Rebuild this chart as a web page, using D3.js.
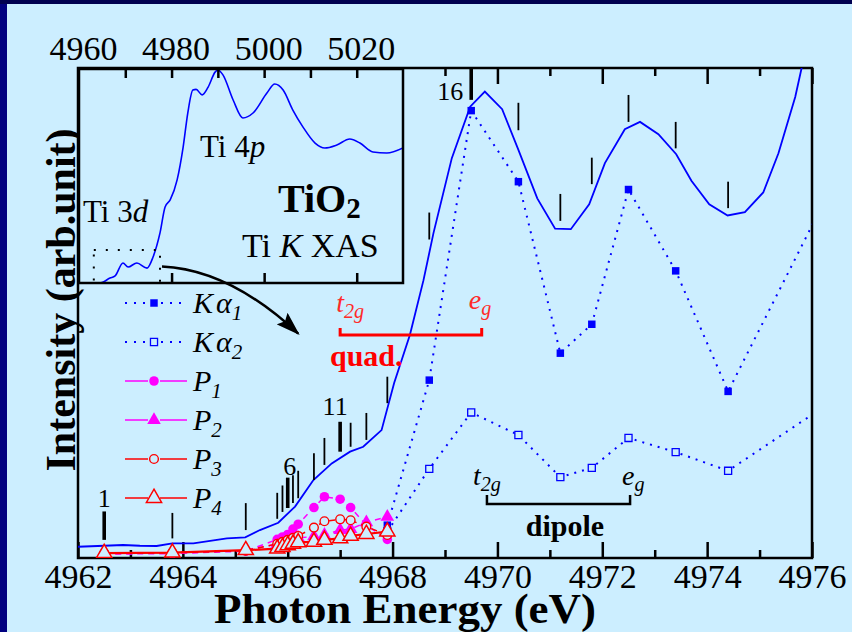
<!DOCTYPE html>
<html>
<head>
<meta charset="utf-8">
<script src="https://cdn.jsdelivr.net/npm/d3@7"></script>
<style>
  html, body { margin: 0; padding: 0; background: #cceeff; }
  svg { display: block; font-family: "Liberation Serif", "Times New Roman", serif; }
</style>
</head>
<body>
<svg id="chart" width="852" height="632"></svg>
<script>
// ---------------- data ----------------
// final-state energies (eV) of the numbered sticks 1..22
const stateEnergy = [4962.5, 4963.8, 4965.2, 4965.8, 4965.9, 4966.0, 4966.1, 4966.2, 4966.5, 4966.7,
                     4967.0, 4967.2, 4967.5, 4967.9, 4968.7, 4969.5, 4970.4, 4971.2, 4971.8, 4972.5,
                     4973.4, 4974.4];
// stick extents (intensity units)
const stickTop    = [9.5, 9.2, 11.2, 13.3, 14.8, 16.4, 16.9, 17.8, 21.4, 24.5, 27.8, 27.6, 29.6, 37.0,
                     70.5, 99.8, 92.9, 74.3, 81.7, 94.5, 89.0, 76.8];
const stickBottom = [3.7, 4.0, 5.7, 8.0, 9.4, 10.2, 11.2, 12.2, 15.9, 19.0, 21.7, 22.7, 24.1, 31.6,
                     65.0, 93.5, 87.3, 68.8, 76.3, 89.0, 83.6, 71.4];
const numberedSticks = [1, 6, 11, 16];

// Ti K-edge XAS (main panel)
const xasEnergy = [4962.0, 4962.5, 4962.86, 4963.18, 4963.5, 4963.8, 4964.2, 4964.52, 4964.84, 4965.19,
                   4965.47, 4965.82, 4966.14, 4966.49, 4966.84, 4967.19, 4967.44, 4967.79, 4968.03, 4968.33,
                   4968.59, 4968.78, 4969.13, 4969.48, 4969.76, 4970.09, 4970.40, 4970.76, 4971.10, 4971.40,
                   4971.75, 4972.05, 4972.43, 4972.72, 4973.07, 4973.41, 4973.70, 4974.04, 4974.39, 4974.72,
                   4975.07, 4975.36, 4975.68, 4975.80, 4975.95];
const xasIntensity = [2.3, 2.5, 2.65, 2.5, 2.45, 3.0, 3.0, 3.5, 4.0, 4.2,
                      5.7, 7.2, 10.5, 15.9, 19.3, 21.7, 22.7, 26.1, 35.7, 45.5,
                      56.7, 66.3, 81.6, 92.1, 95.2, 91.6, 83.3, 73.4, 67.2, 67.1,
                      72.2, 80.6, 87.5, 89.0, 86.5, 82.4, 77.0, 72.2, 69.9, 70.6,
                      74.6, 82.6, 94.1, 99.9, 106];

// K-alpha emission-detected spectra
const kaEnergy = [4967.9, 4968.7, 4969.5, 4970.4, 4971.2, 4971.8, 4972.5, 4973.4, 4974.4, 4976.4];
const ka1 = [6.7, 36.3, 91.3, 76.8, 41.8, 47.7, 75.2, 58.6, 34.0, 76.3];
const ka2 = [5.4, 18.2, 29.7, 25.1, 16.5, 18.4, 24.5, 21.6, 17.8, 32.1];

// pre-edge peaks P1..P4 (first 14 states)
const pEnergy = stateEnergy.slice(0, 14);
const p1 = [0.8, 0.9, 1.4, 3.8, 4.3, 4.8, 5.9, 6.9, 10.3, 12.5, 12.0, 10.3, 6.7, 3.8];
const p2 = [0.9, 1.0, 1.5, 2.9, 3.2, 3.5, 3.8, 4.1, 4.4, 4.7, 5.7, 5.9, 7.3, 8.4];
const p3 = [1.0, 1.1, 1.5, 2.9, 3.3, 3.7, 4.1, 4.5, 6.2, 7.5, 7.9, 7.7, 6.4, 4.7];
const p4 = [1.0, 1.1, 1.6, 1.9, 2.2, 2.6, 2.9, 3.2, 3.3, 3.7, 4.0, 4.5, 4.9, 5.4];

// wide-range XAS (inset)
const insetEnergy = [4960.0, 4964.5, 4966.7, 4967.8, 4969.5, 4970.6, 4972.5, 4974.7, 4976.0, 4977.5,
                     4978.6, 4979.7, 4981.2, 4982.5, 4983.5, 4984.6, 4985.3, 4986.6, 4987.9, 4989.4,
                     4990.0, 4991.1, 4993.3, 4995.4, 4997.6, 5000.6, 5002.3, 5004.1, 5006.2, 5008.4,
                     5011.0, 5013.1, 5015.7, 5018.5, 5020.7, 5023.5, 5026.5, 5030.0];
const insetIntensity = [0.0, 0.0, 0.023, 0.033, 0.094, 0.075, 0.094, 0.070, 0.122, 0.235,
                        0.357, 0.390, 0.484, 0.638, 0.798, 0.906, 0.909, 0.883, 0.920, 0.990,
                        1.0, 0.977, 0.859, 0.775, 0.798, 0.892, 0.934, 0.906, 0.812, 0.732,
                        0.657, 0.634, 0.648, 0.676, 0.657, 0.615, 0.610, 0.634];
const insetTickLabels = [4960, 4980, 5000, 5020];
const preEdgeWindow = { e0: 4963.2, e1: 4977.5, i0: 0, i1: 0.155 };

// ---------------- layout ----------------
const W = 852, H = 632;
const BG = "#cceeff";
const SERIF = "Liberation Serif, Times New Roman, serif";
const plot = { left: 78, right: 812, top: 68, bottom: 558 };

const svg = d3.select("#chart");
svg.append("rect").attr("width", W).attr("height", H).attr("fill", BG);
svg.append("rect").attr("width", 7).attr("height", H).attr("fill", "#000080");
svg.append("rect").attr("width", W).attr("height", 4).attr("fill", "#000050");

const x = d3.scaleLinear().domain([4962, 4976]).range([plot.left, plot.right]);
const y = d3.scaleLinear().domain([0, 100]).range([plot.bottom, plot.top]);

svg.append("defs").append("clipPath").attr("id", "plotClip")
  .append("rect").attr("x", plot.left).attr("y", plot.top)
  .attr("width", plot.right - plot.left).attr("height", plot.bottom - plot.top);

// ---------------- axes ----------------
function styleAxis(g) {
  g.select(".domain").remove();
  g.attr("font-family", SERIF).attr("font-size", 34);
  g.selectAll("line").attr("stroke", "#000").attr("stroke-width", 2.5);
  g.selectAll("text").attr("fill", "#000");
}
const major = d3.range(4962, 4977, 2), minor = d3.range(4963, 4976, 2);
svg.append("g").attr("transform", `translate(0,${plot.bottom})`)
  .call(d3.axisBottom(x).tickValues(major).tickSize(-16).tickPadding(6).tickFormat(d3.format("d")))
  .call(styleAxis);
svg.append("g").attr("transform", `translate(0,${plot.bottom})`)
  .call(d3.axisBottom(x).tickValues(minor).tickSize(-8).tickFormat(""))
  .call(styleAxis);
svg.append("g").attr("transform", `translate(0,${plot.top})`)
  .call(d3.axisTop(x).tickValues(major).tickSize(-16).tickFormat(""))
  .call(styleAxis);
svg.append("g").attr("transform", `translate(0,${plot.top})`)
  .call(d3.axisTop(x).tickValues(minor).tickSize(-8).tickFormat(""))
  .call(styleAxis);

svg.append("rect").attr("x", plot.left).attr("y", plot.top)
  .attr("width", plot.right - plot.left).attr("height", plot.bottom - plot.top)
  .attr("fill", "none").attr("stroke", "#000").attr("stroke-width", 2.5);

svg.append("text").attr("x", 405).attr("y", 623)
  .attr("text-anchor", "middle").attr("font-family", SERIF).attr("font-weight", "bold")
  .attr("font-size", 42).attr("textLength", 382).attr("lengthAdjust", "spacingAndGlyphs")
  .text("Photon Energy (eV)");
svg.append("text").attr("transform", "translate(75,300) rotate(-90)")
  .attr("text-anchor", "middle").attr("font-family", SERIF).attr("font-weight", "bold")
  .attr("font-size", 42).text("Intensity (arb.unit)");

// ---------------- data marks ----------------
const data = svg.append("g").attr("clip-path", "url(#plotClip)");

// total XAS
data.append("path")
  .attr("d", d3.line().x((d, i) => x(xasEnergy[i])).y(d => y(d))(xasIntensity))
  .attr("fill", "none").attr("stroke", "#0000ff").attr("stroke-width", 1.8);

// sticks for the final states
data.append("g").selectAll("line").data(stateEnergy).join("line")
  .attr("x1", d => x(d)).attr("x2", d => x(d))
  .attr("y1", (d, i) => y(stickTop[i])).attr("y2", (d, i) => y(stickBottom[i]))
  .attr("stroke", "#000")
  .attr("stroke-width", (d, i) => numberedSticks.includes(i + 1) ? 3.6 : 1.8);

// stick numbers
const numberStyle = {
  1:  { dx: 0,  anchor: "middle", ref: "top", dy: -4 },
  6:  { dx: 2,  anchor: "middle", ref: "top", dy: -3 },
  11: { dx: -5, anchor: "middle", ref: "top", dy: -7 },
  16: { dx: -8, anchor: "end",    ref: "bottom", dy: 0 }
};
svg.append("g").selectAll("text").data(numberedSticks).join("text")
  .attr("x", n => x(stateEnergy[n - 1]) + numberStyle[n].dx)
  .attr("y", n => y(numberStyle[n].ref === "top" ? stickTop[n - 1] : stickBottom[n - 1]) + numberStyle[n].dy)
  .attr("text-anchor", n => numberStyle[n].anchor)
  .attr("font-family", SERIF).attr("font-size", 26).text(n => n);

const sym = (type, size) => d3.symbol().type(type).size(size)();
const series = [
  { e: kaEnergy, v: ka1, color: "#0000ff", dash: "2,6", width: 2,
    shape: sym(d3.symbolSquare, 56), fill: "#0000ff", sw: 0 },
  { e: kaEnergy, v: ka2, color: "#0000ff", dash: "2,6", width: 2,
    shape: sym(d3.symbolSquare, 50), fill: BG, sw: 1.3 },
  { e: pEnergy, v: p1, color: "#ff00ff", dash: "6,5", width: 1.5,
    shape: sym(d3.symbolCircle, 72), fill: "#ff00ff", sw: 0 },
  { e: pEnergy, v: p2, color: "#ff00ff", dash: "6,5", width: 1.5,
    shape: sym(d3.symbolTriangle, 80), fill: "#ff00ff", sw: 0 },
  { e: pEnergy, v: p3, color: "#ff0000", dash: "6,5", width: 1.5,
    shape: sym(d3.symbolCircle, 60), fill: BG, sw: 1.4 },
  { e: pEnergy, v: p4, color: "#ff0000", dash: null, width: 2.2,
    shape: sym(d3.symbolTriangle, 100), fill: BG, sw: 1.5 }
];
series.forEach(s => {
  const g = data.append("g");
  g.append("path")
    .attr("d", d3.line().x((d, i) => x(s.e[i])).y(d => y(d))(s.v))
    .attr("fill", "none").attr("stroke", s.color).attr("stroke-width", s.width)
    .attr("stroke-dasharray", s.dash);
  g.selectAll("path.m").data(s.v).join("path").attr("class", "m")
    .attr("transform", (d, i) => `translate(${x(s.e[i])},${y(d)})`)
    .attr("d", s.shape).attr("fill", s.fill)
    .attr("stroke", s.sw ? s.color : "none").attr("stroke-width", s.sw);
});

// ---------------- legend ----------------
const legendLabels = [
  ["K", "α", "1"], ["K", "α", "2"], ["P", null, "1"], ["P", null, "2"], ["P", null, "3"], ["P", null, "4"]
];
const legend = svg.append("g");
series.forEach((s, i) => {
  const ly = 303 + i * 39;
  const row = legend.append("g").attr("transform", `translate(0,${ly})`);
  if (s.dash === "2,6") {
    row.append("line").attr("x1", 125).attr("x2", 186).attr("y1", 0).attr("y2", 0)
      .attr("stroke", s.color).attr("stroke-width", 2).attr("stroke-dasharray", "2,7");
  } else {
    [[125, 148], [160, 187]].forEach(([a, b]) =>
      row.append("line").attr("x1", a).attr("x2", b).attr("y1", 0).attr("y2", 0)
        .attr("stroke", s.color).attr("stroke-width", 1.5));
  }
  row.append("path").attr("transform", "translate(154,0)").attr("d", s.shape)
    .attr("fill", s.fill).attr("stroke", s.sw ? s.color : "none").attr("stroke-width", s.sw);
  const [main, greek, sub] = legendLabels[i];
  const t = row.append("text").attr("x", 193).attr("y", 10)
    .attr("font-family", SERIF).attr("font-size", 30).attr("font-style", "italic");
  t.append("tspan").text(main);
  if (greek) t.append("tspan").attr("dx", 3).text(greek);
  t.append("tspan").attr("font-size", 21).attr("dy", 7).text(sub);
});

// ---------------- annotations ----------------
function orbital(g, ex, by, base, sub, color, size) {
  const t = g.append("text").attr("x", ex).attr("y", by).attr("fill", color)
    .attr("font-family", SERIF).attr("font-style", "italic").attr("font-size", size);
  t.append("tspan").text(base);
  t.append("tspan").attr("font-size", size * 0.72).attr("dy", size * 0.22).text(sub);
}
const ann = svg.append("g");
// quadrupole bracket
const qy = 335;
ann.append("path")
  .attr("d", `M${x(4967.0)},${qy - 7}V${qy}H${x(4969.7)}V${qy - 7}`)
  .attr("fill", "none").attr("stroke", "#ff0000").attr("stroke-width", 3);
orbital(ann, x(4967.0) - 4, 312, "t", "2g", "#ff2a2a", 28);
orbital(ann, x(4969.7) - 13, 309, "e", "g", "#ff2a2a", 28);
ann.append("text").attr("x", 330).attr("y", 366).attr("fill", "#ff0000")
  .attr("font-family", SERIF).attr("font-weight", "bold").attr("font-size", 30).text("quad.");
// dipole bracket
const dy0 = 504;
ann.append("path")
  .attr("d", `M${x(4969.8)},${dy0 - 9}V${dy0}H${x(4972.53)}V${dy0 - 9}`)
  .attr("fill", "none").attr("stroke", "#000").attr("stroke-width", 2.5);
orbital(ann, x(4969.8) - 14, 485, "t", "2g", "#000", 28);
orbital(ann, x(4972.53) - 8, 485, "e", "g", "#000", 28);
ann.append("text").attr("x", 565).attr("y", 536).attr("text-anchor", "middle")
  .attr("font-family", SERIF).attr("font-weight", "bold").attr("font-size", 30).text("dipole");

// ---------------- inset ----------------
const xi = d3.scaleLinear().domain([4960, 5030]).range([79, 403]);
const yi = d3.scaleLinear().domain([0, 1]).range([283, 70]);
const inset = svg.append("g");
inset.append("rect").attr("x", xi(4960)).attr("y", 69)
  .attr("width", xi(5030) - xi(4960)).attr("height", yi(0) - 69).attr("fill", BG);
inset.append("clipPath").attr("id", "insetClip").append("rect")
  .attr("x", xi(4960)).attr("y", 69).attr("width", xi(5030) - xi(4960)).attr("height", yi(0) - 69);
inset.append("path").attr("clip-path", "url(#insetClip)")
  .attr("d", d3.line().curve(d3.curveMonotoneX).x((d, i) => xi(insetEnergy[i])).y(d => yi(d))(insetIntensity))
  .attr("fill", "none").attr("stroke", "#0000ff").attr("stroke-width", 1.6);

inset.append("g").attr("transform", "translate(0,69)")
  .call(d3.axisTop(xi).tickValues(d3.range(4970, 5030, 10)).tickSize(-9).tickFormat(""))
  .call(styleAxis);
inset.append("g").attr("transform", "translate(0,69)")
  .call(d3.axisTop(xi).tickValues(insetTickLabels).tickSize(0).tickPadding(9).tickFormat(d3.format("d")))
  .call(styleAxis)
  .selectAll("text").attr("dx", 4);
inset.append("g").attr("transform", `translate(0,${yi(0)})`)
  .call(d3.axisBottom(xi).tickValues([4980, 5000, 5020]).tickSize(-10).tickFormat(""))
  .call(styleAxis);
inset.append("rect").attr("x", xi(4960)).attr("y", 69)
  .attr("width", xi(5030) - xi(4960)).attr("height", yi(0) - 69)
  .attr("fill", "none").attr("stroke", "#000").attr("stroke-width", 2.5);

// pre-edge window
inset.append("rect")
  .attr("x", xi(preEdgeWindow.e0)).attr("y", yi(preEdgeWindow.i1))
  .attr("width", xi(preEdgeWindow.e1) - xi(preEdgeWindow.e0))
  .attr("height", yi(preEdgeWindow.i0) - yi(preEdgeWindow.i1))
  .attr("fill", "none").attr("stroke", "#000").attr("stroke-width", 2).attr("stroke-dasharray", "2,10");

const label = (g, xx, yy, size) => g.append("text").attr("x", xx).attr("y", yy)
  .attr("font-family", SERIF).attr("font-size", size);
let t = label(inset, 83, 222, 31); t.append("tspan").text("Ti 3");
t.append("tspan").attr("font-style", "italic").text("d");
t = label(inset, 200, 157, 31); t.append("tspan").text("Ti 4");
t.append("tspan").attr("font-style", "italic").text("p");
t = label(inset, 278, 212, 40).attr("font-weight", "bold"); t.append("tspan").text("TiO");
t.append("tspan").attr("font-size", 29).attr("dy", 6).text("2");
t = label(inset, 242, 257, 34); t.append("tspan").text("Ti ");
t.append("tspan").attr("font-style", "italic").text("K");
t.append("tspan").text(" XAS");

// arrow from the pre-edge window to the main panel
const ax0 = xi(preEdgeWindow.e1) + 2, ay0 = (yi(preEdgeWindow.i0) + yi(preEdgeWindow.i1)) / 2;
const ax1 = x(4966.2), ay1 = y(45.8);
const defs = svg.select("defs");
defs.append("marker").attr("id", "arrowHead").attr("viewBox", "0 0 24 16")
  .attr("refX", 22).attr("refY", 8).attr("markerWidth", 24).attr("markerHeight", 16)
  .attr("markerUnits", "userSpaceOnUse").attr("orient", "auto")
  .append("path").attr("d", "M0,0L24,8L0,16L4,8Z").attr("fill", "#000");
svg.append("path")
  .attr("d", `M${ax0},${ay0}C${ax0 + 45},${ay0 + 2} ${ax0 + 90},${ay0 + 24} ${ax1},${ay1}`)
  .attr("fill", "none").attr("stroke", "#000").attr("stroke-width", 2.5)
  .attr("marker-end", "url(#arrowHead)");
</script>
</body>
</html>
